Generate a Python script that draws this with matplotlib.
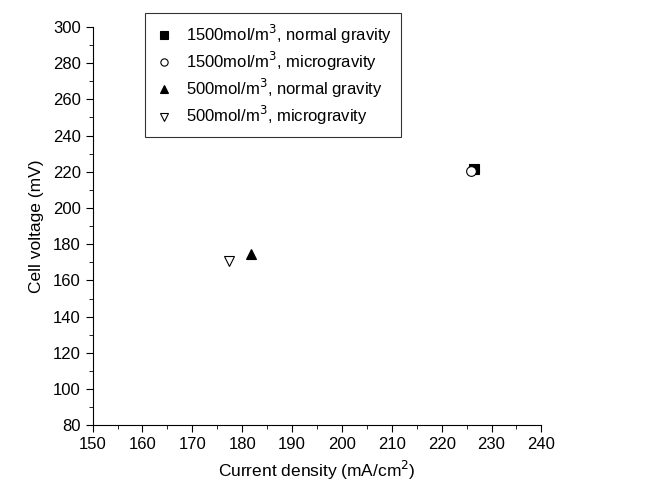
import matplotlib
matplotlib.use("Agg")
import matplotlib.pyplot as plt
from matplotlib.ticker import MultipleLocator

plt.rcParams['font.family'] = ['Liberation Sans', 'DejaVu Sans']

# data
labels = ["1500mol/m$^3$, normal gravity", "1500mol/m$^3$, microgravity",
          "500mol/m$^3$, normal gravity", "500mol/m$^3$, microgravity"]
current = [226.5, 225.8, 181.7, 177.3]
voltage = [221.5, 220.5, 174.5, 171.0]
markers = ["s", "o", "^", "v"]
filled = [True, False, True, False]

fig = plt.figure(figsize=(6.59, 4.90), dpi=100)
ax = fig.add_axes([0.1405, 0.132, 0.681, 0.813])

for x, y, m, f, lab in zip(current, voltage, markers, filled, labels):
    ax.plot([x], [y], linestyle="none", marker=m, markersize=7,
            markerfacecolor="black" if f else "white", markeredgecolor="black",
            markeredgewidth=0.8, label=lab)

ax.set_xlim(150, 240)
ax.set_ylim(80, 300)
ax.xaxis.set_major_locator(MultipleLocator(10))
ax.xaxis.set_minor_locator(MultipleLocator(5))
ax.yaxis.set_major_locator(MultipleLocator(20))
ax.yaxis.set_minor_locator(MultipleLocator(10))
for s in ["top", "right"]:
    ax.spines[s].set_visible(False)
ax.tick_params(which="major", direction="out", length=5, labelsize=12)
ax.tick_params(which="minor", direction="out", length=3)
ax.set_xlabel("Current density (mA/cm$^2$)", fontsize=12.5, labelpad=5)
ax.set_ylabel("Cell voltage (mV)", fontsize=12.5, labelpad=6)

leg = ax.legend(loc="upper left", bbox_to_anchor=(0.098, 1.055), fontsize=12,
                frameon=True, fancybox=False, edgecolor="black", markerscale=0.75,
                handlelength=1.2, handletextpad=0.7, borderpad=0.55, labelspacing=0.25)
leg.get_frame().set_linewidth(0.8)

fig.savefig("out.png", dpi=100)
